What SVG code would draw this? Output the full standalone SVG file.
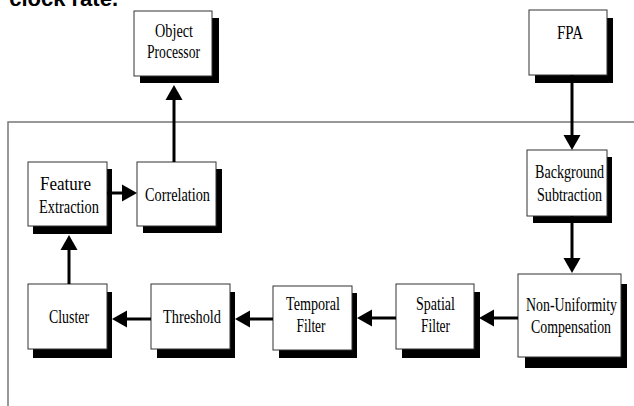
<svg xmlns="http://www.w3.org/2000/svg" width="634" height="406" viewBox="0 0 634 406">
<style>
.box{fill:#fff;stroke:#333;stroke-width:1}
.sh{fill:#000}
.t{font-family:"Liberation Serif","Times New Roman",serif;font-size:19px;fill:#000;text-anchor:middle}
.frame{fill:none;stroke:#777;stroke-width:1.5}
.c{stroke:#000;stroke-width:3;fill:none;marker-end:url(#ah)}
</style>
<defs>
<marker id="ah" markerUnits="userSpaceOnUse" viewBox="0 -9 15 18" refX="0" refY="0" markerWidth="15" markerHeight="18" orient="auto">
<path d="M0,-8.5 L15,0 L0,8.5 Z" fill="#000"/>
</marker>
</defs>
<rect width="634" height="406" fill="#fff"/>
<text x="118" y="6" style="font-family:'Liberation Sans',Arial,sans-serif;font-size:22px;font-weight:bold;text-anchor:end">clock rate.</text>
<path class="frame" d="M8,406 V122 H634"/>

<g id="object-processor">
<rect class="sh" x="140" y="18" width="79" height="65"/>
<rect class="box" x="134" y="11" width="78" height="65"/>
<text class="t" x="174" y="37" textLength="38" lengthAdjust="spacingAndGlyphs">Object</text>
<text class="t" x="173.5" y="58" textLength="53" lengthAdjust="spacingAndGlyphs">Processor</text>
</g>
<g id="fpa">
<rect class="sh" x="535" y="18" width="78" height="65"/>
<rect class="box" x="529" y="10" width="78" height="65"/>
<text class="t" x="570" y="39" textLength="26" lengthAdjust="spacingAndGlyphs">FPA</text>
</g>
<g id="background-subtraction">
<rect class="sh" x="533" y="157" width="79" height="66"/>
<rect class="box" x="527" y="150" width="80" height="66"/>
<text class="t" x="569.5" y="178" textLength="69" lengthAdjust="spacingAndGlyphs">Background</text>
<text class="t" x="569.5" y="201" textLength="65" lengthAdjust="spacingAndGlyphs">Subtraction</text>
</g>
<g id="non-uniformity-compensation">
<rect class="sh" x="525" y="284" width="102" height="84"/>
<rect class="box" x="518" y="274" width="103" height="83"/>
<text class="t" transform="translate(571.5,311) scale(0.73,1)">Non-Uniformity</text>
<text class="t" transform="translate(571,333) scale(0.73,1)">Compensation</text>
</g>
<g id="spatial-filter">
<rect class="sh" x="402" y="292" width="78" height="66"/>
<rect class="box" x="396" y="284" width="78" height="65"/>
<text class="t" x="435.5" y="310" textLength="39" lengthAdjust="spacingAndGlyphs">Spatial</text>
<text class="t" x="435.5" y="332" textLength="29" lengthAdjust="spacingAndGlyphs">Filter</text>
</g>
<g id="temporal-filter">
<rect class="sh" x="279" y="293" width="78" height="65"/>
<rect class="box" x="273" y="286" width="79" height="64"/>
<text class="t" x="313" y="310" textLength="54" lengthAdjust="spacingAndGlyphs">Temporal</text>
<text class="t" x="311" y="332" textLength="29" lengthAdjust="spacingAndGlyphs">Filter</text>
</g>
<g id="threshold">
<rect class="sh" x="157" y="292" width="78" height="66"/>
<rect class="box" x="151" y="284" width="79" height="65"/>
<text class="t" x="192" y="323" textLength="58" lengthAdjust="spacingAndGlyphs">Threshold</text>
</g>
<g id="cluster">
<rect class="sh" x="33" y="292" width="79" height="66"/>
<rect class="box" x="28" y="284" width="79" height="65"/>
<text class="t" x="69" y="323" textLength="40" lengthAdjust="spacingAndGlyphs">Cluster</text>
</g>
<g id="feature-extraction">
<rect class="sh" x="33" y="169" width="79" height="65"/>
<rect class="box" x="28" y="162" width="79" height="64"/>
<text class="t" x="65.5" y="190" textLength="51" lengthAdjust="spacingAndGlyphs">Feature</text>
<text class="t" x="69" y="213" textLength="60" lengthAdjust="spacingAndGlyphs">Extraction</text>
</g>
<g id="correlation">
<rect class="sh" x="143" y="169" width="79" height="64"/>
<rect class="box" x="137" y="162" width="79" height="64"/>
<text class="t" x="177.5" y="201" textLength="65" lengthAdjust="spacingAndGlyphs">Correlation</text>
</g>

<g id="connectors">
<path class="c" d="M572,75 V135"/>
<path class="c" d="M572,216 V258"/>
<path class="c" d="M518,318 H494"/>
<path class="c" d="M396,318 H372"/>
<path class="c" d="M273,319 H250"/>
<path class="c" d="M151,319 H127"/>
<path class="c" d="M69,284 V250"/>
<path class="c" d="M107,193 H122"/>
<path class="c" d="M174,162 V100"/>
</g>
</svg>
